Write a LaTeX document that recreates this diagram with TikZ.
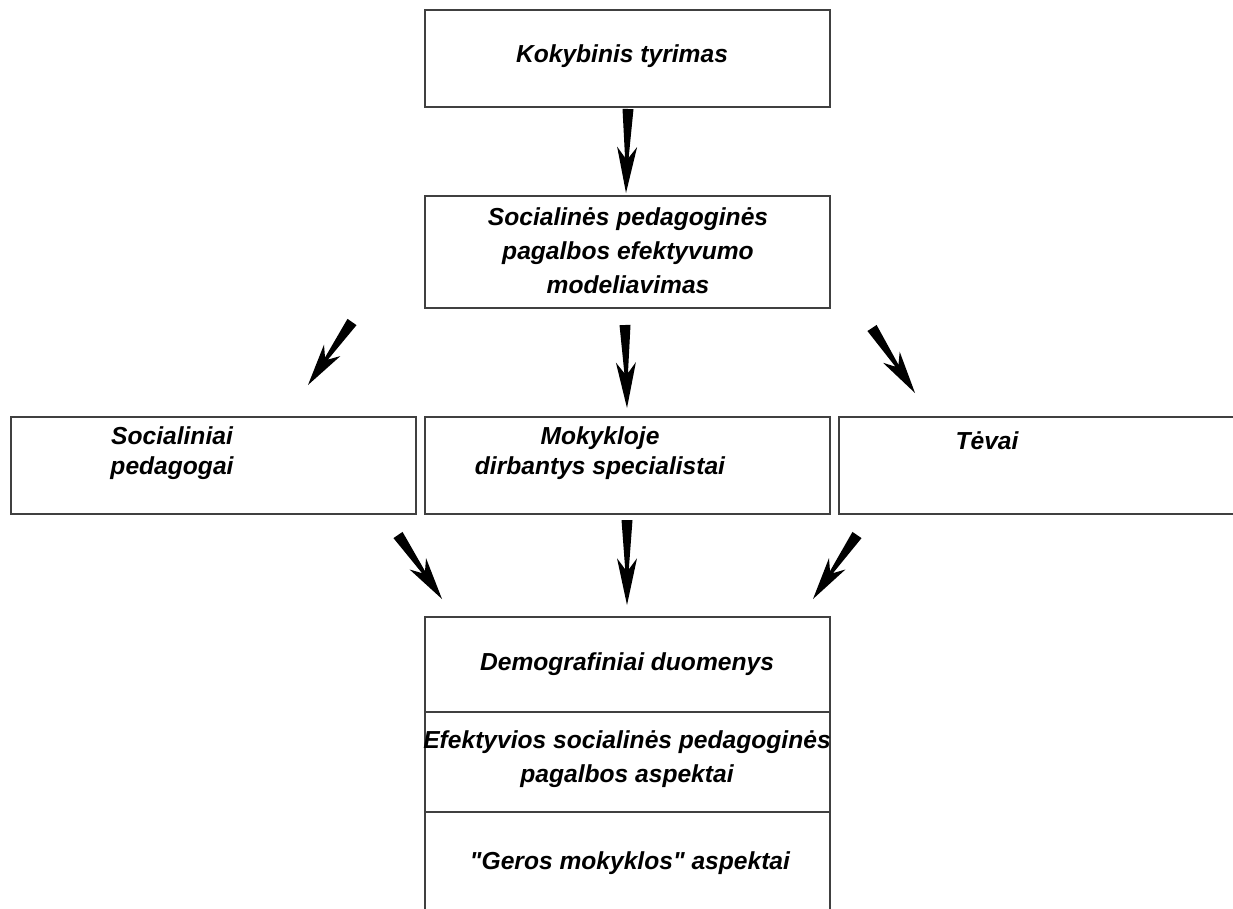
\documentclass[tikz,border=0pt]{standalone}
\usepackage{fontspec}
\setmainfont{Liberation Sans}[Ligatures=TeXOff]
\usetikzlibrary{calc}
\tikzset{
  box/.style={draw=black!75, line width=1.3pt, fill=none},
  txt/.style={font=\bfseries\itshape\fontsize{24.6}{34}\selectfont, align=center, inner sep=0pt, text=black},
  txtrow/.style={txt, font=\bfseries\itshape\fontsize{24.6}{30}\selectfont},
  arrowfill/.style={fill=black},
}
\newcommand\warrow[2]{%
  \fill[arrowfill] ($(#1)!5.5pt!90:(#2)$)
    -- ($(#1)!0.58!(#2)!1.8pt!90:(#2)$)
    -- ($(#1)!0.45!(#2)!10pt!90:(#2)$)
    -- (#2)
    -- ($(#1)!0.45!(#2)!10pt!-90:(#2)$)
    -- ($(#1)!0.58!(#2)!1.8pt!-90:(#2)$)
    -- ($(#1)!5.5pt!-90:(#2)$) -- cycle;}
\begin{document}
\begin{tikzpicture}[x=1pt,y=-1pt]
\useasboundingbox (0,0) rectangle (1233,908);
\clip (0,0) rectangle (1233,908);
% boxes
\draw[box] (425,10) rectangle (830,107);
\node[txt] (top) at (622,56) {Kokybinis tyrimas};
\draw[box] (425,196) rectangle (830,308);
\node[txt] (model) at (628,251) {Socialinės pedagoginės\\pagalbos efektyvumo\\modeliavimas};
\draw[box] (11,417) rectangle (416,514);
\node[txtrow] (soc) at (172,453) {Socialiniai\\pedagogai};
\draw[box] (425,417) rectangle (830,514);
\node[txtrow] (mok) at (600,453) {Mokykloje\\dirbantys specialistai};
\draw[box] (839,417) rectangle (1245,514);
\node[txtrow] (tev) at (987,441) {Tėvai};
\draw[box] (425,617) rectangle (830,712);
\node[txt] (demo) at (627,664) {Demografiniai duomenys};
\draw[box] (425,712) rectangle (830,812);
\node[txt] (efek) at (627,759) {Efektyvios socialinės pedagoginės\\pagalbos aspektai};
\draw[box] (425,812) rectangle (830,930);
\node[txt] (geros) at (630,863) {"Geros mokyklos" aspektai};
% arrow coordinates
\coordinate (a1s) at (628,109); \coordinate (a1e) at (626,193);
\coordinate (a2s) at (352,322); \coordinate (a2e) at (308,385);
\coordinate (a3s) at (625,325); \coordinate (a3e) at (627,408);
\coordinate (a4s) at (872,328); \coordinate (a4e) at (915,393);
\coordinate (a5s) at (398,535); \coordinate (a5e) at (442,599);
\coordinate (a6s) at (627,520); \coordinate (a6e) at (627,605);
\coordinate (a7s) at (857,535); \coordinate (a7e) at (813,599);
\warrow{a1s}{a1e}
\warrow{a2s}{a2e}
\warrow{a3s}{a3e}
\warrow{a4s}{a4e}
\warrow{a5s}{a5e}
\warrow{a6s}{a6e}
\warrow{a7s}{a7e}
\end{tikzpicture}
\end{document}
